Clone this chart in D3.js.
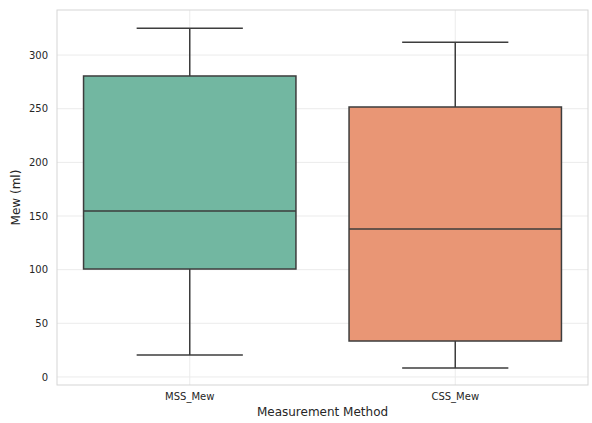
<!DOCTYPE html>
<html>
<head>
<meta charset="utf-8">
<script src="https://cdn.jsdelivr.net/npm/d3@7"></script>
<style>
  body { margin: 0; background: #fff; }
  text { font-family: "DejaVu Sans", sans-serif; fill: #262626; }
</style>
</head>
<body>
<script>
// box plot stats
let categories = ['MSS_Mew', 'CSS_Mew'];
let whiskerLow  = [20.5, 8.3];
let q1          = [100.6, 33.5];
let median      = [154.7, 138];
let q3          = [280.5, 251.6];
let whiskerHigh = [325, 312];
let yTicks = [0, 50, 100, 150, 200, 250, 300];
let colors = ['#72b7a1', '#e99675'];

let width = 592, height = 423;
let margin = {left: 57, right: 4, top: 10, bottom: 38};

let svg = d3.select('body').append('svg')
  .attr('width', width)
  .attr('height', height);

let x = d3.scaleBand()
  .domain(categories)
  .range([margin.left, width - margin.right])
  .paddingInner(0.2)
  .paddingOuter(0.1);

let y = d3.scaleLinear()
  .domain([-7.5, 342])
  .range([height - margin.bottom, margin.top]);

// grid
let grid = svg.append('g');
grid.selectAll('line.hy')
  .data(yTicks)
  .enter().append('line')
  .attr('x1', margin.left).attr('x2', width - margin.right)
  .attr('y1', d => y(d)).attr('y2', d => y(d))
  .attr('stroke', '#ebebeb').attr('stroke-width', 1);
grid.selectAll('line.vx')
  .data(categories)
  .enter().append('line')
  .attr('x1', d => x(d) + x.bandwidth() / 2).attr('x2', d => x(d) + x.bandwidth() / 2)
  .attr('y1', margin.top).attr('y2', height - margin.bottom)
  .attr('stroke', '#ebebeb').attr('stroke-width', 1);

// frame
svg.append('rect')
  .attr('x', margin.left).attr('y', margin.top)
  .attr('width', width - margin.left - margin.right)
  .attr('height', height - margin.top - margin.bottom)
  .attr('fill', 'none')
  .attr('stroke', '#d5d5d5')
  .attr('stroke-width', 1);

let lineColor = '#3d3d3d';
let boxes = svg.append('g')
  .selectAll('g')
  .data(categories)
  .enter().append('g');

boxes.each(function(c, i) {
  let g = d3.select(this);
  let cx = x(c) + x.bandwidth() / 2;
  let bw = x.bandwidth();
  // whiskers
  g.append('line')
    .attr('x1', cx).attr('x2', cx)
    .attr('y1', y(whiskerLow[i])).attr('y2', y(q1[i]))
    .attr('stroke', lineColor).attr('stroke-width', 1.5);
  g.append('line')
    .attr('x1', cx).attr('x2', cx)
    .attr('y1', y(q3[i])).attr('y2', y(whiskerHigh[i]))
    .attr('stroke', lineColor).attr('stroke-width', 1.5);
  // caps
  [whiskerLow[i], whiskerHigh[i]].forEach(v => {
    g.append('line')
      .attr('x1', cx - bw / 4).attr('x2', cx + bw / 4)
      .attr('y1', y(v)).attr('y2', y(v))
      .attr('stroke', lineColor).attr('stroke-width', 1.5);
  });
  // box
  g.append('rect')
    .attr('x', x(c)).attr('width', bw)
    .attr('y', y(q3[i])).attr('height', y(q1[i]) - y(q3[i]))
    .attr('fill', colors[i])
    .attr('stroke', lineColor).attr('stroke-width', 1.5);
  // median
  g.append('line')
    .attr('x1', x(c)).attr('x2', x(c) + bw)
    .attr('y1', y(median[i])).attr('y2', y(median[i]))
    .attr('stroke', lineColor).attr('stroke-width', 1.5);
});

// axes
let yAxis = svg.append('g')
  .attr('transform', 'translate(' + margin.left + ',0)')
  .call(d3.axisLeft(y).tickValues(yTicks).tickSize(0).tickPadding(9));
yAxis.select('.domain').remove();
yAxis.selectAll('text').attr('font-size', 10).style('font-family', '"DejaVu Sans", sans-serif').attr('fill', '#262626');

let xAxis = svg.append('g')
  .attr('transform', 'translate(0,' + (height - margin.bottom) + ')')
  .call(d3.axisBottom(x).tickSize(0).tickPadding(8));
xAxis.select('.domain').remove();
xAxis.selectAll('text').attr('font-size', 10).style('font-family', '"DejaVu Sans", sans-serif').attr('fill', '#262626');

svg.append('text')
  .attr('x', margin.left + (width - margin.left - margin.right) / 2)
  .attr('y', 416)
  .attr('text-anchor', 'middle')
  .attr('font-size', 12)
  .text('Measurement Method');

svg.append('text')
  .attr('transform', 'translate(20,' + (margin.top + (height - margin.top - margin.bottom) / 2) + ') rotate(-90)')
  .attr('text-anchor', 'middle')
  .attr('font-size', 12)
  .text('Mew (ml)');
</script>
</body>
</html>
